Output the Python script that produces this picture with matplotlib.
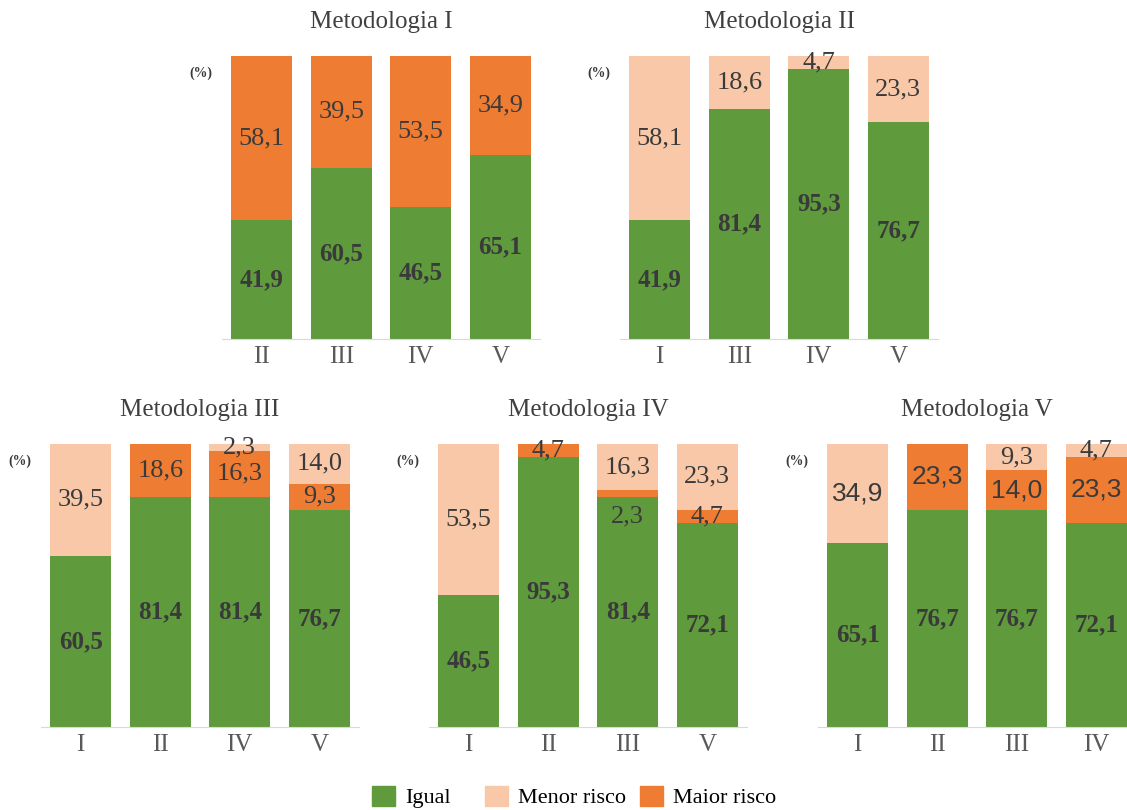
import matplotlib.pyplot as plt
import numpy as np
from matplotlib.patches import Patch

# cores
VERDE = '#5f9a3d'
CLARO = '#f8c8a8'
LARANJA = '#ee7d33'

titulos = ['Metodologia I', 'Metodologia II', 'Metodologia III',
           'Metodologia IV', 'Metodologia V']
categorias = [['II', 'III', 'IV', 'V'],
              ['I', 'III', 'IV', 'V'],
              ['I', 'II', 'IV', 'V'],
              ['I', 'II', 'III', 'V'],
              ['I', 'II', 'III', 'IV']]
igual = [[41.9, 60.5, 46.5, 65.1],
         [41.9, 81.4, 95.3, 76.7],
         [60.5, 81.4, 81.4, 76.7],
         [46.5, 95.3, 81.4, 72.1],
         [65.1, 76.7, 76.7, 72.1]]
maior = [[58.1, 39.5, 53.5, 34.9],
         [0, 0, 0, 0],
         [0, 18.6, 16.3, 9.3],
         [0, 4.7, 2.3, 4.7],
         [0, 23.3, 14.0, 23.3]]
menor = [[0, 0, 0, 0],
         [58.1, 18.6, 4.7, 23.3],
         [39.5, 0, 2.3, 14.0],
         [53.5, 0, 16.3, 23.3],
         [34.9, 0, 9.3, 4.7]]
legendas = ['Igual', 'Menor risco', 'Maior risco']

W, H = 1127, 810
fig = plt.figure(figsize=(W / 100, H / 100), dpi=100)
plt.rcParams['font.family'] = ['Liberation Serif', 'DejaVu Serif']

# posicao de cada painel em pixels: (esquerda, direita, y do zero, y do 100)
paineis = [(222, 540, 339, 56), (620, 938, 339, 56),
           (41, 359, 727, 444), (429, 747, 727, 444),
           (818, 1136, 727, 444)]


def rotulo(ax, x, base, v, bold=False, dy=0, fam=None):
    if v <= 0:
        return
    kw = {}
    if fam:
        kw['family'] = fam
    ax.text(x, base + v / 2 + dy, f'{v:.1f}'.replace('.', ','),
            ha='center', va='center', fontsize=19 if not bold else 18,
            fontweight='bold' if bold else 'normal', color='#3a3a3a',
            clip_on=False, **kw)


for i in range(5):
    l, r, y0, y1 = paineis[i]
    ax = fig.add_axes([l / W, 1 - y0 / H, (r - l) / W, (y0 - y1) / H])
    x = np.arange(4)
    g = np.array(igual[i])
    mo = np.array(maior[i])
    me = np.array(menor[i])
    ax.bar(x, g, width=0.77, color=VERDE)
    ax.bar(x, mo, width=0.77, bottom=g, color=LARANJA)
    ax.bar(x, me, width=0.77, bottom=g + mo, color=CLARO)
    for j in range(4):
        rotulo(ax, j, 0, g[j], bold=True)
        # o rotulo 2,3 da metodologia IV fica abaixo da barra
        dy = -8 if (i == 3 and j == 2) else 0
        fam = 'Liberation Sans' if (i == 4 and mo[j] > 10) else None
        rotulo(ax, j, g[j], mo[j], dy=dy, fam=fam)
        fam = 'Liberation Sans' if (i == 4 and me[j] > 10) else None
        rotulo(ax, j, g[j] + mo[j], me[j], fam=fam)
    ax.set_xlim(-0.5, 3.5)
    ax.set_ylim(0, 100)
    ax.set_xticks(x)
    ax.set_xticklabels(categorias[i], fontsize=18, color='#595959')
    ax.tick_params(axis='x', length=0, pad=5)
    ax.set_yticks([])
    for s in ['top', 'left', 'right']:
        ax.spines[s].set_visible(False)
    ax.spines['bottom'].set_color('#d9d9d9')
    ax.set_title(titulos[i], fontsize=18, color='#404040', pad=20)
    ax.text(-0.62, 94, '(%)', ha='right', va='center', fontsize=10,
            fontweight='bold', color='#3a3a3a')

# legenda: uma entrada por vez, com o espacamento irregular do original
cores = [VERDE, CLARO, LARANJA]
for k, xpix in enumerate([372, 485, 640]):
    fig.legend([Patch(color=cores[k])], [legendas[k]], loc='center left',
               bbox_to_anchor=(xpix / W, 1 - 797 / H), frameon=False,
               fontsize=16, handlelength=1.05, handleheight=1.05,
               handletextpad=0.45, borderpad=0, borderaxespad=0)

fig.savefig('out.png', dpi=100)
